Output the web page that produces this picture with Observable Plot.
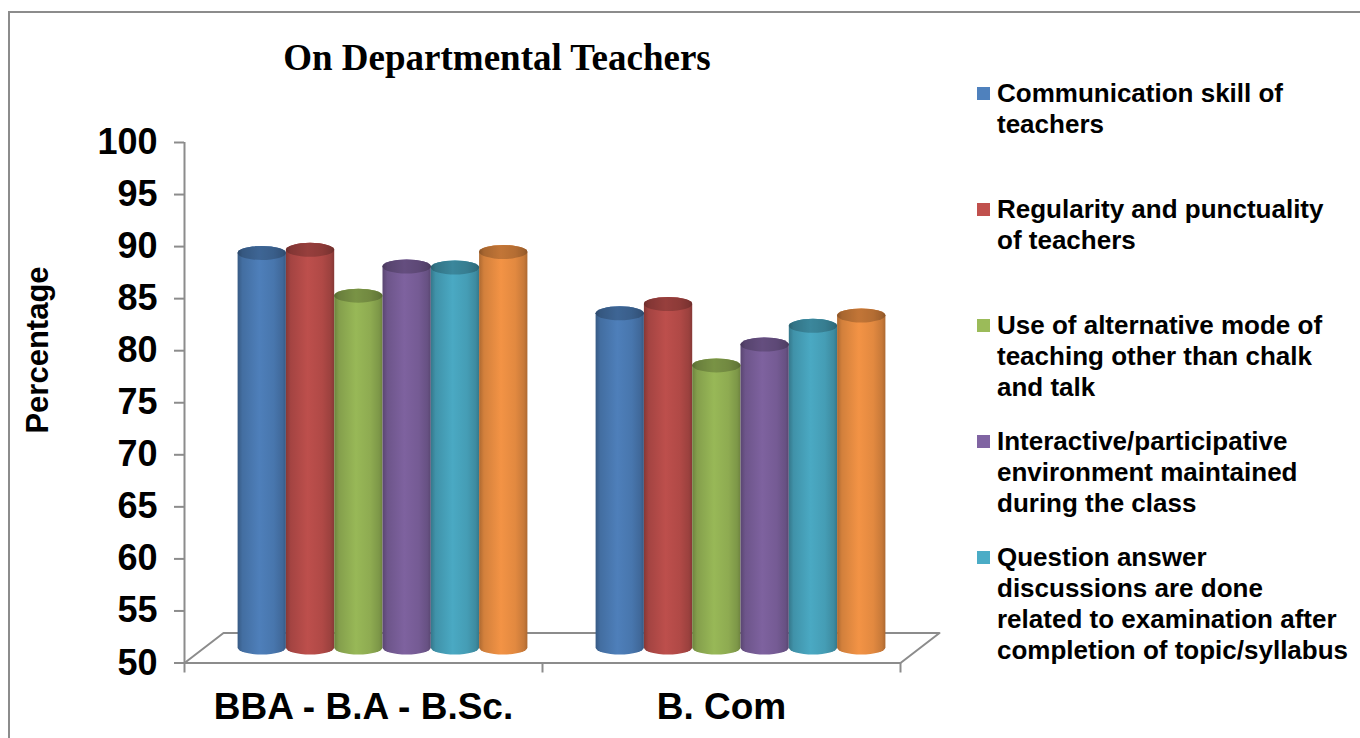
<!DOCTYPE html>
<html>
<head>
<meta charset="utf-8">
<script src="https://cdn.jsdelivr.net/npm/d3@7"></script>
<script src="https://cdn.jsdelivr.net/npm/@observablehq/plot@0.6"></script>
<style>
  html, body { margin: 0; padding: 0; background: #fff; }
  #wrap { position: relative; width: 1360px; height: 738px; overflow: hidden; background: #fff;
          font-family: "Liberation Sans", Arial, sans-serif; color: #000; }
  #frame { position: absolute; left: 8px; top: 11px; width: 1400px; height: 800px;
           border-left: 2px solid #8c8c8c; border-top: 2px solid #8c8c8c; }
  #chart { position: absolute; left: 0; top: 0; }
  #chart svg { overflow: visible; }
  #chart svg [aria-label^="y-axis"] line, #chart svg [aria-label^="y-axis"] path,
  #chart svg [aria-label^="x-axis"] line, #chart svg [aria-label^="x-axis"] path {
    stroke: #8c8c8c; stroke-width: 2px; stroke-opacity: 1;
  }
  #title { position: absolute; left: 497px; top: 38.5px; transform: translateX(-50%);
           font-family: "Liberation Serif", "Times New Roman", serif; font-weight: bold;
           font-size: 37px; line-height: 37px; white-space: nowrap; }
  #ylabel { position: absolute; left: 37px; top: 350px; transform: translate(-50%, -50%) rotate(-90deg);
            font-weight: bold; font-size: 31px; line-height: 31px; white-space: nowrap; }
  .legend-item { position: absolute; left: 977px; }
  .legend-item .sw { position: absolute; left: 0; top: 9px; width: 13px; height: 13px; }
  .legend-item .lt { position: absolute; left: 20px; top: 0; font-weight: bold; font-size: 26px;
                     line-height: 31px; white-space: pre; }
</style>
</head>
<body>
<div id="wrap">
  <div id="frame"></div>
  <div id="chart"></div>
  <div id="title"></div>
  <div id="ylabel"></div>
  <div id="legend"></div>
</div>
<script>
// ---------------- data ----------------
const chartTitle = "On Departmental Teachers";
const yLabel = "Percentage";
const groups = ["BBA - B.A - B.Sc.", "B. Com"];
const seriesNames = [
  "Communication skill of\nteachers",
  "Regularity and punctuality\nof teachers",
  "Use of alternative mode of\nteaching other than chalk\nand talk",
  "Interactive/participative\nenvironment maintained\nduring the class",
  "Question answer\ndiscussions are done\nrelated to examination after\ncompletion of topic/syllabus",
  "Series 6 (legend entry cut off)"
];
const legendCount = 5; // the sixth legend entry is cut off in the original
const valuesBBA  = [87.9, 88.2, 83.8, 86.6, 86.5, 88.0];
const valuesBCom = [82.1, 83.0, 77.1, 79.1, 80.9, 81.9];
const groupValues = [valuesBBA, valuesBCom];
const seriesColors = ["#4F81BD", "#C0504D", "#9BBB59", "#8064A2", "#4BACC6", "#F79646"];
const yTicks = [50, 55, 60, 65, 70, 75, 80, 85, 90, 95, 100];
const yDomain = [50, 100];

// ---------------- layout ----------------
const W = 1360, H = 738;
const mL = 184, mR = W - 900, mT = 142, mB = H - 662.5;
const pxPerX = (W - mL - mR) / groups.length;          // pixels per category
const pxPerY = (H - mT - mB) / (yDomain[1] - yDomain[0]);
const depthDX = 39, depthDY = 30;                      // 3D floor depth in px
const barPx = 48.3, capRy = 7;
const bw = barPx / pxPerX;
const off = (1 - seriesNames.length * bw) / 2;

const rows = groups.flatMap((g, gi) => seriesNames.map((s, si) => ({
  group: g, gi, series: s, si, value: groupValues[gi][si]
})));

const x1 = d => d.gi + off + d.si * bw;
const x2 = d => d.gi + off + (d.si + 1) * bw;
const base = yDomain[0];
const floorDX = depthDX / pxPerX, floorDY = depthDY / pxPerY;
const floor = [
  [0, base], [groups.length, base],
  [groups.length + floorDX, base + floorDY], [floorDX, base + floorDY], [0, base]
];

const gradIds = seriesNames.map((_, i) => `cyl${i}`);
const gray = "#8c8c8c";

const barOpts = {
  x1, x2, dx: depthDX / 2, dy: -depthDY / 2,
  insetTop: -capRy, insetBottom: -capRy, rx: barPx / 2, ry: capRy
};

const plot = Plot.plot({
  width: W, height: H,
  marginLeft: mL, marginRight: mR, marginTop: mT, marginBottom: mB,
  style: { fontFamily: "Liberation Sans, Arial, sans-serif", fontWeight: "bold",
           fontSize: "36px", color: "black", background: "transparent", overflow: "visible" },
  x: { domain: [0, groups.length], ticks: d3.range(groups.length + 1), tickSize: 10,
       tickFormat: () => "", label: null },
  y: { domain: yDomain, ticks: yTicks, tickSize: 10, tickPadding: 17, label: null },
  color: { type: "ordinal", domain: seriesNames, range: gradIds.map(id => `url(#${id})`) },
  marks: [
    Plot.line(floor, { x: d => d[0], y: d => d[1], stroke: gray, strokeWidth: 2 }),
    Plot.ruleX([0], { y1: () => yDomain[0], y2: () => yDomain[1], stroke: gray, strokeWidth: 2 }),
    Plot.rect(rows, { ...barOpts, y1: () => base, y2: "value", fill: "series" }),
    Plot.rect(rows, { ...barOpts, y1: "value", y2: "value", fill: "series" }),
    Plot.rect(rows, { ...barOpts, y1: "value", y2: "value", fill: "#000", fillOpacity: 0.2 }),
    Plot.text(groups, { x: (d, i) => i + 0.5, y: () => base, text: d => d, dy: 44.5,
                        fontSize: 37, fontWeight: "bold", fill: "#000" })
  ]
});

// cylinder gradients
const defs = d3.select(plot).insert("defs", ":first-child");
seriesColors.forEach((c, i) => {
  const col = d3.color(c);
  const g = defs.append("linearGradient").attr("id", gradIds[i])
    .attr("x1", 0).attr("x2", 1).attr("y1", 0).attr("y2", 0);
  [[0, col.darker(1.0)], [0.1, col.darker(0.45)], [0.45, col.darker(0.05)],
   [0.75, col.darker(0.25)], [0.93, col.darker(0.6)], [1, col.darker(1.0)]]
    .forEach(([o, cc]) => g.append("stop").attr("offset", o).attr("stop-color", cc.formatHex()));
});

document.getElementById("chart").appendChild(plot);
document.getElementById("title").textContent = chartTitle;
document.getElementById("ylabel").textContent = yLabel;

const legend = document.getElementById("legend");
seriesNames.slice(0, legendCount).forEach((name, i) => {
  const item = document.createElement("div");
  item.className = "legend-item";
  item.style.top = (77.5 + i * 116) + "px";
  const sw = document.createElement("div");
  sw.className = "sw";
  sw.style.background = seriesColors[i];
  const lt = document.createElement("div");
  lt.className = "lt";
  lt.textContent = name;
  item.appendChild(sw); item.appendChild(lt);
  legend.appendChild(item);
});
</script>
</body>
</html>
